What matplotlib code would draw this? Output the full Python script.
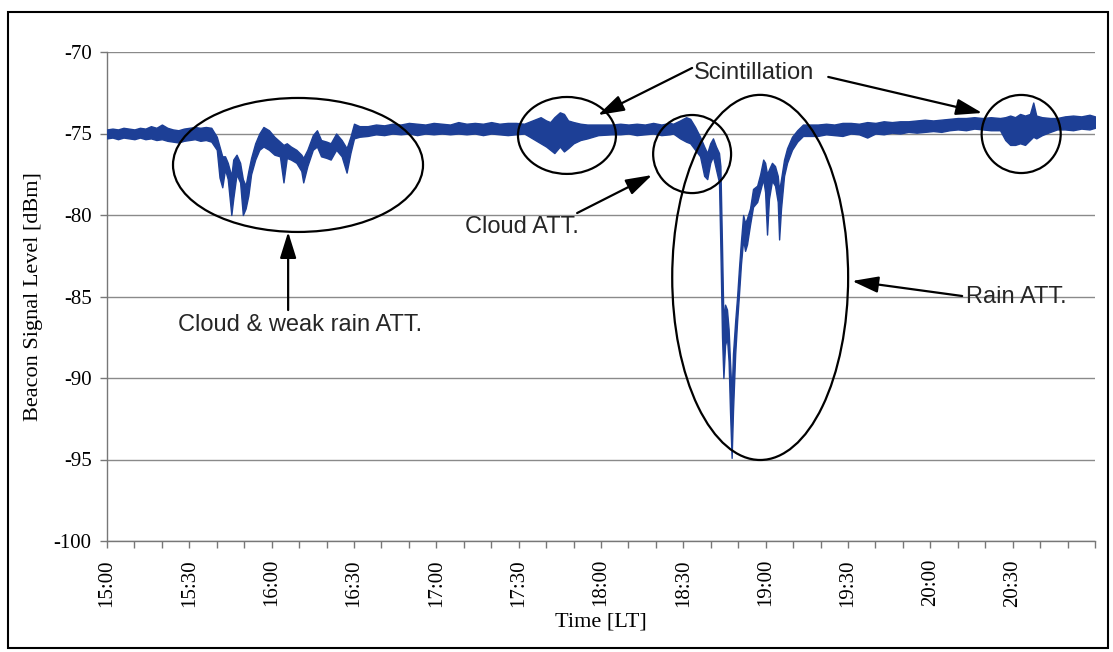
import matplotlib
matplotlib.use("Agg")
import matplotlib.pyplot as plt
from matplotlib.patches import Ellipse, Rectangle

# minutes after 15:00 and the low / high edge of the beacon trace (dBm)
t_min = [0, 2, 4, 6, 8, 10, 12, 14, 16, 18, 20, 22, 24, 26, 28, 30, 32, 34, 36, 38,
         40, 41, 42, 43, 44, 45.3, 46, 47.2, 48.5, 49.5, 50.5, 51.5, 52.5, 54, 55.5,
         57, 59, 61, 63, 64.3, 65.5, 67, 69, 70.8, 71.5, 73, 75, 76.5, 78, 80, 81.5,
         83.5, 85.5, 87.3, 88.7, 90, 92, 95,
         98, 101, 104, 107, 110, 113, 116, 119, 122, 125, 128, 131, 134, 137, 140,
         143, 146, 149,
         152, 155, 158, 160, 161.5, 163, 165, 166.5, 168, 170, 172.5, 175, 179, 184,
         187, 190, 193, 196, 199, 202, 205,
         206.3, 208.8, 211, 212.5, 214.3, 216.1, 217.6, 218.7, 219.8, 220.8, 221.9,
         223, 223.5, 224.1, 224.6, 225.2, 225.9, 226.5, 227, 227.6, 228.1, 228.9,
         229.6, 230.3, 231, 231.8, 232.5, 233.2, 234.3, 235.4, 236.9, 238, 239.1,
         239.8, 240.5, 241.2, 242.3, 243.4, 244.4, 244.9, 245.6, 246.7, 247.8, 249.6,
         251.5, 253.6, 256.2,
         259, 262, 265, 268, 271, 274, 277, 280, 283, 286, 289, 292, 295, 298, 301,
         304, 307, 310, 313, 316, 319, 322,
         325.4, 327.3, 329.1, 330.9, 332.7, 334.5, 336.3, 337.5, 338.6, 340.7, 343.7,
         346.2,
         349, 352, 355, 358, 360]

level_lo = [-75.3, -75.25, -75.35, -75.25, -75.3, -75.35, -75.25, -75.35, -75.3, -75.4,
            -75.35, -75.45, -75.5, -75.55, -75.45, -75.4, -75.35, -75.45, -75.4, -75.5,
            -76.0, -77.7, -78.3, -77.2, -77.8, -80.0, -79.0, -77.5, -78.0, -80.0, -79.6,
            -78.8, -77.5, -76.6, -76.0, -75.8, -76.0, -76.3, -76.4, -78.0, -76.5, -76.6,
            -76.8, -77.3, -78.0, -77.0, -76.0, -75.8, -76.4, -76.5, -76.6, -76.0, -76.4,
            -77.4, -76.2, -75.3, -75.2, -75.15,
            -75.05, -75.1, -75.0, -75.05, -75.0, -75.1, -75.0, -75.05, -75.0, -75.05,
            -75.0, -75.05, -75.0, -75.1, -75.0, -75.05, -75.1, -75.05,
            -75.0, -75.3, -75.6, -75.8, -76.0, -76.2, -75.8, -76.1, -75.9, -75.6, -75.4,
            -75.3, -75.1, -75.05,
            -75.05, -75.0, -75.1, -75.05, -75.0, -75.1, -75.05,
            -75.0, -75.3, -75.5, -75.6, -76.0, -76.4, -77.6, -77.8, -76.8, -76.4, -77.2,
            -78.0, -82.0, -87.5, -90.0, -88.0, -87.5, -89.0, -92.0, -94.9, -92.0, -88.5,
            -86.5, -84.8, -83.0, -81.5, -82.2, -81.8, -80.6, -79.5, -79.2, -78.5, -77.8,
            -78.6, -81.2, -79.0, -77.9, -78.2, -79.2, -81.5, -79.6, -77.6, -76.8, -76.0,
            -75.5, -75.15, -75.15,
            -75.15, -75.05, -75.1, -75.15, -75.0, -75.05, -75.25, -75.0, -75.05, -74.95,
            -75.0, -74.9, -74.95, -74.9, -74.85, -74.9, -74.8, -74.75, -74.8, -74.7,
            -74.75, -74.8,
            -74.8, -75.4, -75.7, -75.7, -75.6, -75.7, -75.4, -75.2, -75.3, -75.1, -74.9,
            -74.75,
            -74.75, -74.8, -74.7, -74.75, -74.65]

level_hi = [-74.75, -74.7, -74.75, -74.65, -74.7, -74.75, -74.65, -74.7, -74.55, -74.65,
            -74.45, -74.65, -74.75, -74.8, -74.7, -74.65, -74.6, -74.65, -74.6, -74.65,
            -75.2, -75.8, -76.4, -76.4, -76.8, -77.6, -76.6, -76.3, -76.8, -77.8, -78.2,
            -77.3, -76.5, -75.6, -75.0, -74.6, -74.8, -75.2, -75.5, -75.7, -75.6, -75.8,
            -76.0, -76.3, -76.5, -76.0, -75.1, -74.8, -75.4, -75.5, -75.6, -75.0, -75.4,
            -75.9, -75.2, -74.4, -74.55, -74.55,
            -74.45, -74.5, -74.4, -74.45, -74.35, -74.4, -74.45, -74.35, -74.4, -74.45,
            -74.3, -74.4, -74.35, -74.4, -74.3, -74.4, -74.35, -74.35,
            -74.4, -74.2, -74.0, -74.2, -74.3, -74.0, -73.7, -73.8, -74.2, -74.3, -74.4,
            -74.45, -74.45, -74.45,
            -74.4, -74.45, -74.4, -74.45, -74.35, -74.45, -74.35,
            -74.4, -74.2, -74.0, -74.1, -74.6, -75.2, -75.8, -76.2, -75.6, -75.3, -75.8,
            -76.2, -77.0, -82.0, -86.5, -85.5, -85.8, -87.0, -89.0, -91.0, -88.5, -86.5,
            -85.0, -83.2, -81.6, -80.0, -80.5, -80.2, -79.6, -78.4, -78.2, -77.5, -76.6,
            -76.8, -77.5, -77.2, -76.8, -77.0, -77.6, -78.5, -77.8, -76.6, -75.9, -75.2,
            -74.8, -74.45, -74.45,
            -74.45, -74.4, -74.45, -74.35, -74.35, -74.4, -74.3, -74.35, -74.25, -74.3,
            -74.25, -74.25, -74.2, -74.15, -74.2, -74.15, -74.1, -74.05, -74.05, -74.0,
            -74.05, -74.0,
            -74.05, -74.0, -73.9, -74.0, -73.8, -73.9, -73.8, -73.1, -73.9, -74.0, -74.05,
            -74.05,
            -73.95, -73.9, -73.95, -73.85, -73.95]

tick_min = list(range(0, 361, 10))
tick_lab = ["15:00", "15:30", "16:00", "16:30", "17:00", "17:30",
            "18:00", "18:30", "19:00", "19:30", "20:00", "20:30"]

serif = "Liberation Serif"
sans = "Liberation Sans"
blue = "#1d3f96"

fig = plt.figure(figsize=(11.13, 6.52), dpi=100)
ax = fig.add_axes([107 / 1113, 1 - 541 / 652, 988 / 1113, 489 / 652])

ax.fill_between(t_min, level_lo, level_hi, color=blue, lw=1.0, edgecolor=blue, zorder=3)

ax.set_xlim(0, 360)
ax.set_ylim(-100, -70)
ax.set_yticks(range(-100, -69, 5))
ax.set_yticklabels([str(v) for v in range(-100, -69, 5)], fontfamily=serif, fontsize=15)
ax.set_xticks(tick_min)
labels = []
for m in tick_min:
    labels.append(tick_lab[m // 30] if m % 30 == 0 and m < 360 else "")
ax.set_xticklabels(labels, rotation=90, fontfamily=serif, fontsize=15)
ax.tick_params(axis="both", direction="out", length=5, width=1, color="#777777", pad=6)
ax.tick_params(axis="x", pad=8)

ax.grid(axis="y", color="#8a8a8a", lw=1)
ax.set_axisbelow(True)
for s in ["top", "right"]:
    ax.spines[s].set_visible(False)
for s in ["left", "bottom"]:
    ax.spines[s].set_color("#777777")
    ax.spines[s].set_linewidth(1)

ax.set_xlabel("Time [LT]", fontfamily=serif, fontsize=16, labelpad=4)
ax.set_ylabel("Beacon Signal Level [dBm]", fontfamily=serif, fontsize=16, labelpad=8)

# circles round the events
for cx, cy, w, h in [(69.6, -76.93, 91.1, 8.22), (167.6, -75.12, 35.7, 4.72),
                     (213.2, -76.26, 28.4, 4.79), (238.0, -83.83, 64.1, 22.4),
                     (333.1, -75.03, 28.8, 4.79)]:
    ax.add_patch(Ellipse((cx, cy), w, h, fill=False, ec="black", lw=1.6, zorder=4, clip_on=False))

arrow = dict(arrowstyle="-|>,head_length=0.8,head_width=0.25", mutation_scale=20,
             lw=1.6, color="black", shrinkA=0, shrinkB=0)
txt = dict(fontfamily=sans, fontsize=17, color="#262626", ha="center", va="center", zorder=5)

ax.text(235.8, -71.29, "Scintillation", **txt)
ax.annotate("", xy=(178.9, -73.87), xytext=(213.2, -70.98), arrowprops=arrow)
ax.annotate("", xy=(318.9, -73.74), xytext=(262.8, -71.53), arrowprops=arrow)

ax.text(151.2, -80.74, "Cloud ATT.", **txt)
ax.annotate("", xy=(198.6, -77.55), xytext=(171.3, -79.88), arrowprops=arrow)

ax.text(70.3, -86.75, "Cloud & weak rain ATT.", **txt)
ax.annotate("", xy=(66.0, -81.04), xytext=(66.0, -85.83), arrowprops=arrow)

ax.text(331.3, -85.03, "Rain ATT.", **txt)
ax.annotate("", xy=(271.5, -84.05), xytext=(311.6, -84.97), arrowprops=arrow)

fig.patches.append(Rectangle((8 / 1113, 4 / 652), 1100 / 1113, 636 / 652, fill=False,
                             ec="black", lw=1.5, transform=fig.transFigure))

fig.savefig("out.png", dpi=100)
plt.close(fig)
